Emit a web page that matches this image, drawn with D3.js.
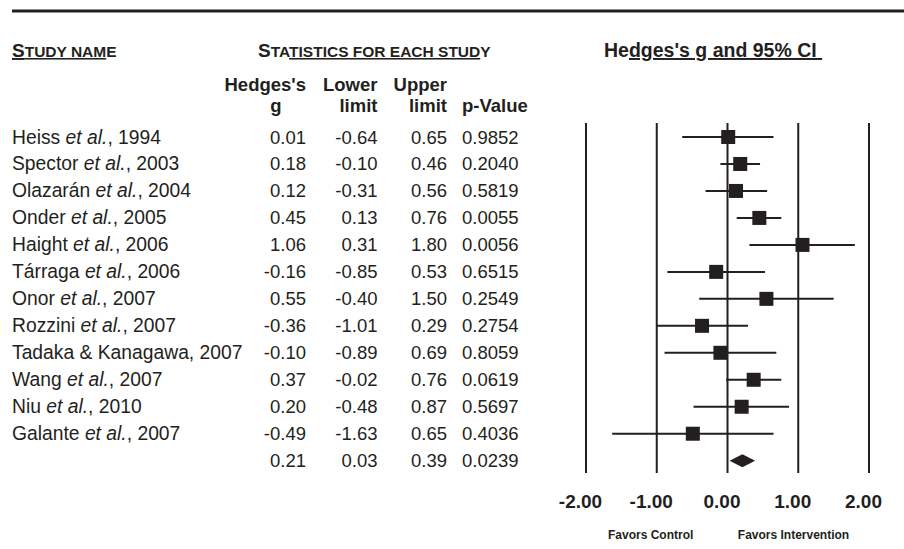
<!DOCTYPE html>
<html>
<head>
<meta charset="utf-8">
<script src="https://cdn.jsdelivr.net/npm/d3@7"></script>
<style>
  body { margin: 0; background: #fff; }
  svg { display: block; font-family: "Liberation Sans", Arial, Helvetica, sans-serif; }
  .ink { fill: #231f20; }
</style>
</head>
<body>
<svg id="chart" width="904" height="549"></svg>
<script>
// data
const studies = [
  "Heiss et al., 1994", "Spector et al., 2003", "Olazarán et al., 2004",
  "Onder et al., 2005", "Haight et al., 2006", "Tárraga et al., 2006",
  "Onor et al., 2007", "Rozzini et al., 2007", "Tadaka & Kanagawa, 2007",
  "Wang et al., 2007", "Niu et al., 2010", "Galante et al., 2007"
];
const hedgesG = [0.01, 0.18, 0.12, 0.45, 1.06, -0.16, 0.55, -0.36, -0.10, 0.37, 0.20, -0.49];
const lowerLimit = [-0.64, -0.10, -0.31, 0.13, 0.31, -0.85, -0.40, -1.01, -0.89, -0.02, -0.48, -1.63];
const upperLimit = [0.65, 0.46, 0.56, 0.76, 1.80, 0.53, 1.50, 0.29, 0.69, 0.76, 0.87, 0.65];
const pValues = ["0.9852", "0.2040", "0.5819", "0.0055", "0.0056", "0.6515", "0.2549",
  "0.2754", "0.8059", "0.0619", "0.5697", "0.4036"];
const summary = {g: 0.21, lower: 0.03, upper: 0.39, p: "0.0239"};
const axisTicks = [-2, -1, 0, 1, 2];

const svg = d3.select("#chart");
const ink = "#231f20";

const x = d3.scaleLinear().domain([-2, 2]).range([586, 869]);
const y = d3.scalePoint().domain(d3.range(studies.length + 1)).range([137, 460.7]);

// top rule
svg.append("line")
  .attr("x1", 12).attr("x2", 904).attr("y1", 11).attr("y2", 11)
  .attr("stroke", ink).attr("stroke-width", 3);

// small-caps section headers, underline only on part like in the figure
function smallCaps(x0, parts) {
  const t = svg.append("text").attr("x", x0).attr("y", 57)
    .attr("class", "ink").style("font-weight", "bold");
  parts.forEach(p => {
    t.append("tspan")
      .style("font-size", p.big ? "19px" : "15.5px")
      .style("text-decoration", p.u ? "underline" : null)
      .text(p.s);
  });
}
smallCaps(12, [{s: "S", big: 1, u: 1}, {s: "TUDY NAM", u: 1}, {s: "E"}]);
smallCaps(258, [{s: "S", big: 1}, {s: "TA"}, {s: "TISTICS FOR EACH STUD", u: 1}, {s: "Y"}]);

const ht = svg.append("text").attr("x", 604).attr("y", 57)
  .attr("class", "ink").style("font-weight", "bold").style("font-size", "19.5px");
ht.append("tspan").text("He");
ht.append("tspan").style("text-decoration", "underline").text("dges's g and 95% CI\u00a0");

// column headers
const cols = [
  {x: 306, anchor: "end"},
  {x: 377.5, anchor: "end"},
  {x: 447, anchor: "end"},
  {x: 462, anchor: "start"}
];
const head1 = ["Hedges's", "Lower", "Upper", ""];
const head2 = ["g", "limit", "limit", "p-Value"];
const hdr = svg.append("g").attr("class", "ink")
  .style("font-weight", "bold").style("font-size", "18.5px");
hdr.selectAll(".h1").data(head1).join("text")
  .attr("x", (d, i) => cols[i].x).attr("y", 91)
  .attr("text-anchor", (d, i) => cols[i].anchor).text(d => d);
hdr.selectAll(".h2").data(head2).join("text")
  .attr("x", (d, i) => i === 0 ? 276 : cols[i].x).attr("y", 112)
  .attr("text-anchor", (d, i) => i === 0 ? "middle" : cols[i].anchor).text(d => d);

// table rows
const rows = studies.map((s, i) => ({
  name: s, g: hedgesG[i], lo: lowerLimit[i], hi: upperLimit[i], p: pValues[i]
}));
const allRows = rows.concat([{name: "", g: summary.g, lo: summary.lower, hi: summary.upper, p: summary.p}]);

const tbl = svg.append("g").attr("class", "ink").style("font-size", "18.5px");
allRows.forEach((r, i) => {
  const yy = y(i) + 6.5;
  const nm = tbl.append("text").attr("x", 12).attr("y", yy).style("font-size", "19.3px");
  const k = r.name.indexOf("et al.");
  if (k >= 0) {
    nm.append("tspan").text(r.name.slice(0, k));
    nm.append("tspan").style("font-style", "italic").text("et al.");
    nm.append("tspan").text(r.name.slice(k + 6));
  } else {
    nm.text(r.name);
  }
  [r.g.toFixed(2), r.lo.toFixed(2), r.hi.toFixed(2), r.p].forEach((v, c) => {
    tbl.append("text").attr("x", cols[c].x).attr("y", yy)
      .attr("text-anchor", cols[c].anchor).text(v);
  });
});

// forest plot: vertical reference lines
const plot = svg.append("g");
plot.selectAll(".grid").data(axisTicks).join("line")
  .attr("x1", d => x(d)).attr("x2", d => x(d))
  .attr("y1", 123).attr("y2", 473)
  .attr("stroke", ink).attr("stroke-width", 2);

// confidence intervals and point estimates
plot.selectAll(".ci").data(rows).join("line")
  .attr("x1", d => x(d.lo)).attr("x2", d => x(d.hi))
  .attr("y1", (d, i) => y(i)).attr("y2", (d, i) => y(i))
  .attr("stroke", ink).attr("stroke-width", 2);

const box = 14;
plot.selectAll(".pt").data(rows).join("rect")
  .attr("x", d => x(d.g) - box / 2).attr("y", (d, i) => y(i) - box / 2)
  .attr("width", box).attr("height", box)
  .attr("fill", ink);

// summary diamond
const sy = y(studies.length);
plot.append("path")
  .attr("d", `M${x(summary.lower)},${sy}L${x(summary.g)},${sy - 6.5}L${x(summary.upper)},${sy}L${x(summary.g)},${sy + 6.5}Z`)
  .attr("fill", ink);

// axis labels (plain hyphen like the figure)
const ax = svg.append("g").attr("transform", "translate(0,490)")
  .call(d3.axisBottom(x).tickValues(axisTicks).tickSize(0).tickPadding(0)
    .tickFormat(d => d.toFixed(2)));
ax.select(".domain").remove();
ax.selectAll("text")
  .attr("dx", -6).attr("dy", 0).attr("y", 18)
  .attr("fill", ink)
  .style("font-family", "'Liberation Sans', Arial, sans-serif")
  .style("font-size", "19px").style("font-weight", "bold");

svg.append("g").attr("class", "ink")
  .style("font-size", "12px").style("font-weight", "bold")
  .selectAll("text").data([["Favors Control", 650.7], ["Favors Intervention", 793.5]]).join("text")
  .attr("x", d => d[1]).attr("y", 538.5).attr("text-anchor", "middle").text(d => d[0]);
</script>
</body>
</html>
